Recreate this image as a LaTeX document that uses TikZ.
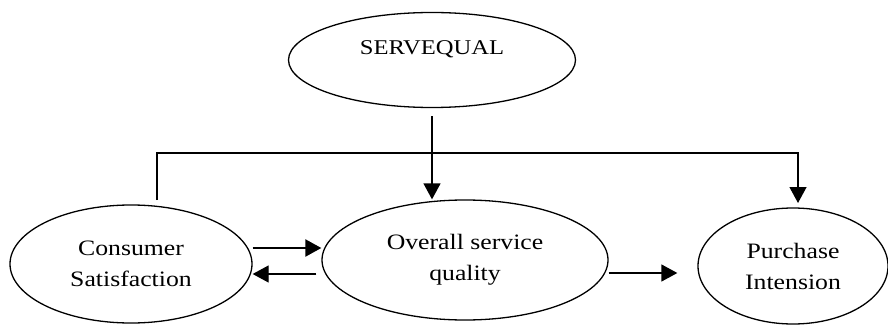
\documentclass[tikz,border=0pt]{standalone}
\usepackage{fontspec}
\setmainfont{Liberation Serif}[FakeStretch=1.17]
\usetikzlibrary{arrows.meta,shapes.geometric}
\begin{document}
\begin{tikzpicture}[x=1pt,y=-1pt,
  oval/.style={ellipse,draw,line width=1.3pt,inner sep=0pt,align=center,
    font=\fontsize{22}{31}\selectfont},
  arr/.style={line width=1.3pt,-{Triangle[length=16pt,width=17pt]}},
  plain/.style={line width=1.3pt}]
\useasboundingbox (0,0) rectangle (888,326);
\node[oval,minimum width=287pt,minimum height=95pt] (serv) at (432,60) {};
\node[font=\fontsize{21}{28}\selectfont] (servtxt) at (432,49) {SERVEQUAL};
\node[oval,minimum width=242pt,minimum height=118pt] (cons) at (131,264) {Consumer\\Satisfaction};
\node[oval,minimum width=286pt,minimum height=120pt] (over) at (465,260) {Overall service\\quality};
\node[oval,minimum width=190pt,minimum height=116pt] (purch) at (793,266) {Purchase\\Intension};
\coordinate (cstart) at (157,200);
\coordinate (ptip) at (798,203);
\coordinate (busy) at (0,153);
\draw[arr,shorten <=8pt] (serv.south) -- (serv.south |- over.north);
\draw[arr] (cstart) |- (busy -| ptip) -- (ptip);
\draw[arr,line width=2.2pt] ([yshift=16pt]cons.east) -- ([yshift=16pt]cons.east -| over.west);
\draw[arr] ([yshift=-14pt,xshift=-5pt]over.west) -- ([yshift=-14pt]over.west -| cons.east);
\draw[arr,shorten >=20pt] ([yshift=-13pt]over.east) -- ([yshift=-13pt]over.east -| purch.west);
\end{tikzpicture}
\end{document}
